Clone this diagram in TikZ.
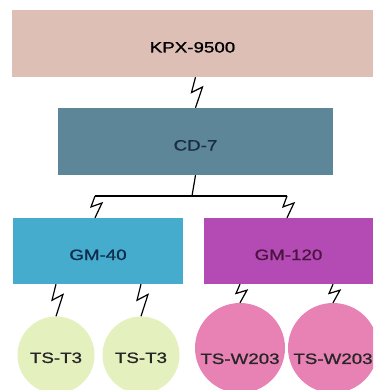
\documentclass[tikz,border=0pt]{standalone}
\usepackage{fontspec}
\setmainfont{Liberation Sans}[FakeStretch=1.25,FakeBold=1]
\usetikzlibrary{calc}

\definecolor{kpxfill}{RGB}{221,191,181}
\definecolor{cdfill}{RGB}{93,134,152}
\definecolor{cdtext}{RGB}{25,45,75}
\definecolor{gmbluefill}{RGB}{70,172,205}
\definecolor{gmbluetext}{RGB}{15,45,75}
\definecolor{gmpurplefill}{RGB}{180,75,180}
\definecolor{gmpurpletext}{RGB}{75,20,65}
\definecolor{tsgreen}{RGB}{228,240,190}
\definecolor{tspink}{RGB}{232,130,180}

\begin{document}
\begin{tikzpicture}[
  x=1pt, y=-1pt,
  unit/.style  = {rectangle, inner sep=0pt, text height=18pt, text depth=0pt,
                  font=\fontsize{15pt}{15pt}\selectfont},
  term/.style  = {circle, inner sep=0pt, text=black!85,
                  font=\fontsize{15pt}{15pt}\selectfont},
  wire/.style  = {line width=1.2pt},
  zap/.style   = {wire, to path={
                    -- ($(\tikztostart)!0.5!(\tikztotarget)+(-4,0)$)
                    -- ($(\tikztostart)!0.32!(\tikztotarget)+(7,0)$)
                    -- (\tikztotarget)}},
]
  \useasboundingbox (0,0) rectangle (373,390);
  \clip (0,0) rectangle (373,390);

  \node[unit, fill=kpxfill, minimum width=361pt, minimum height=67pt] (kpx) at (192.5,43.5) {KPX-9500};
  \node[unit, fill=cdfill, text=cdtext, minimum width=275pt, minimum height=67pt] (cd) at (195.5,141.5) {CD-7};
  \node[unit, fill=gmbluefill, text=gmbluetext, minimum width=170pt, minimum height=66pt] (gm40) at (98,251) {GM-40};
  \node[unit, fill=gmpurplefill, text=gmpurpletext, minimum width=169pt, minimum height=66pt] (gm120) at (288.5,251) {GM-120};

  % terminals
  \node[term, fill=tsgreen, minimum size=77pt, text height=16pt] (t1) at (56,355) {TS-T3};
  \node[term, fill=tsgreen, minimum size=77pt, text height=16pt] (t2) at (141,355) {TS-T3};
  \node[term, fill=tspink, minimum size=90pt, text height=32pt] (w1) at (240,348) {TS-W203};
  \node[term, fill=tspink, minimum size=90pt, text height=32pt] (w2) at (333,348) {TS-W203};

  \coordinate (fork) at (192,196);
  \coordinate (forkL) at (95,196);
  \coordinate (forkR) at (287,196);

  \draw[zap] (kpx.south -| cd.north) to (cd.north);
  \draw[wire] (cd.south) -- (fork);
  \draw[wire] (forkL) -- (forkR);
  \draw[zap] (forkL) to (forkL |- gm40.north);
  \draw[zap] (forkR) to (forkR |- gm120.north);

  \draw[zap] (gm40.south -| t1.north) to (t1.north);
  \draw[zap] (gm40.south -| t2.north) to (t2.north);
  \draw[zap] (gm120.south -| w1.north) to (w1.north);
  \draw[zap] (gm120.south -| w2.north) to (w2.north);
\end{tikzpicture}
\end{document}
